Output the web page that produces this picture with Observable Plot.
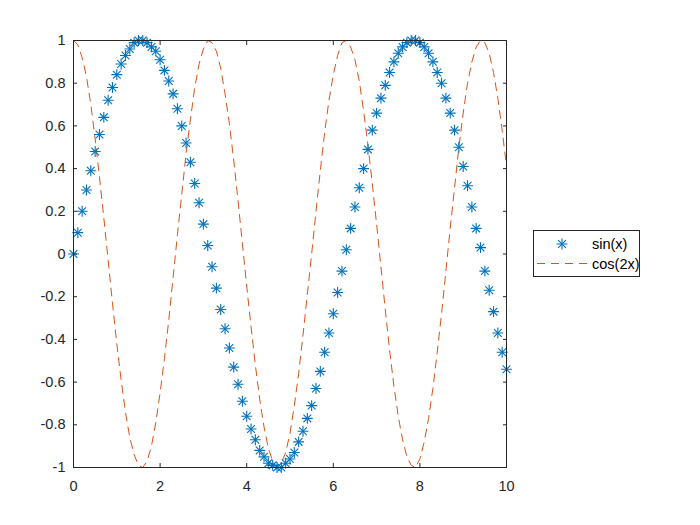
<!DOCTYPE html>
<html>
<head>
<meta charset="utf-8">
<script src="https://cdn.jsdelivr.net/npm/d3@7"></script>
<script src="https://cdn.jsdelivr.net/npm/@observablehq/plot@0.6"></script>
<style>
  html, body { margin: 0; padding: 0; background: #fff; }
  #wrap { position: relative; width: 700px; height: 525px; }
  #legend { position: absolute; left: 0; top: 0; }
</style>
</head>
<body>
<div id="wrap"></div>
<script>
const xValues = [0,0.1,0.2,0.3,0.4,0.5,0.6,0.7,0.8,0.9,1,1.1,1.2,1.3,1.4,1.5,1.6,1.7,1.8,1.9,2,2.1,2.2,2.3,2.4,2.5,2.6,2.7,2.8,2.9,3,3.1,3.2,3.3,3.4,3.5,3.6,3.7,3.8,3.9,4,4.1,4.2,4.3,4.4,4.5,4.6,4.7,4.8,4.9,5,5.1,5.2,5.3,5.4,5.5,5.6,5.7,5.8,5.9,6,6.1,6.2,6.3,6.4,6.5,6.6,6.7,6.8,6.9,7,7.1,7.2,7.3,7.4,7.5,7.6,7.7,7.8,7.9,8,8.1,8.2,8.3,8.4,8.5,8.6,8.7,8.8,8.9,9,9.1,9.2,9.3,9.4,9.5,9.6,9.7,9.8,9.9,10];
const sinValues = [0.00,0.10,0.20,0.30,0.39,0.48,0.56,0.64,0.72,0.78,0.84,0.89,0.93,0.96,0.99,1.00,1.00,0.99,0.97,0.95,0.91,0.86,0.81,0.75,0.68,0.60,0.52,0.43,0.33,0.24,0.14,0.04,-0.06,-0.16,-0.26,-0.35,-0.44,-0.53,-0.61,-0.69,-0.76,-0.82,-0.87,-0.92,-0.95,-0.98,-0.99,-1.00,-1.00,-0.98,-0.96,-0.93,-0.88,-0.83,-0.77,-0.71,-0.63,-0.55,-0.46,-0.37,-0.28,-0.18,-0.08,0.02,0.12,0.22,0.31,0.40,0.49,0.58,0.66,0.73,0.79,0.85,0.90,0.94,0.97,0.99,1.00,1.00,0.99,0.97,0.94,0.90,0.85,0.80,0.73,0.66,0.58,0.50,0.41,0.32,0.22,0.12,0.03,-0.08,-0.17,-0.27,-0.37,-0.46,-0.54];
const cosValues = [1.00,0.98,0.92,0.83,0.70,0.54,0.36,0.17,-0.03,-0.23,-0.42,-0.59,-0.74,-0.86,-0.94,-0.99,-1.00,-0.97,-0.90,-0.79,-0.65,-0.49,-0.31,-0.11,0.09,0.28,0.47,0.63,0.78,0.89,0.96,1.00,0.99,0.95,0.87,0.75,0.61,0.44,0.25,0.05,-0.15,-0.34,-0.52,-0.68,-0.81,-0.91,-0.97,-1.00,-0.98,-0.93,-0.84,-0.71,-0.56,-0.38,-0.19,0.00,0.20,0.39,0.57,0.72,0.84,0.93,0.99,1.00,0.97,0.91,0.81,0.67,0.51,0.33,0.14,-0.06,-0.26,-0.45,-0.62,-0.76,-0.87,-0.95,-0.99,-1.00,-0.96,-0.88,-0.77,-0.63,-0.46,-0.28,-0.08,0.12,0.31,0.50,0.66,0.80,0.90,0.97,1.00,0.99,0.94,0.85,0.73,0.58,0.41];
const xTicks = [0,2,4,6,8,10];
const yTicks = [-1,-0.8,-0.6,-0.4,-0.2,0,0.2,0.4,0.6,0.8,1];
const seriesNames = ["sin(x)", "cos(2x)"];

const blue = "#0072BD";
const orange = "#D95319";
const axisColor = "#262626";

const sinData = xValues.map((x, i) => ({x, y: sinValues[i]}));
const cosData = xValues.map((x, i) => ({x, y: cosValues[i]}));
const fmt = d => String(Math.round(d * 10) / 10);
const blank = () => "";
const markerR = 3.6;

const chart = Plot.plot({
  width: 700,
  height: 525,
  marginLeft: 73,
  marginRight: 194,
  marginTop: 40,
  marginBottom: 58,
  style: {fontFamily: "'Liberation Sans', Arial, sans-serif", fontSize: "14.5px", color: axisColor, background: "#fff"},
  x: {domain: [0, 10]},
  y: {domain: [-1, 1]},
  marks: [
    Plot.line(cosData, {x: "x", y: "y", stroke: orange, strokeWidth: 1, strokeDasharray: "8,6"}),
    Plot.dot(sinData, {x: "x", y: "y", symbol: "plus", r: markerR, stroke: blue, strokeWidth: 1.1}),
    Plot.dot(sinData, {x: "x", y: "y", symbol: "times", r: markerR, stroke: blue, strokeWidth: 1.1}),
    Plot.frame({stroke: axisColor, strokeWidth: 1}),
    Plot.axisX({anchor: "bottom", ticks: xTicks, tickSize: 0, tickPadding: 13, tickFormat: fmt, label: null, fill: axisColor}),
    Plot.axisY({anchor: "left", ticks: yTicks, tickSize: 0, tickPadding: 8, tickFormat: fmt, label: null, fill: axisColor}),
    Plot.axisX({anchor: "bottom", ticks: xTicks, tickSize: -4, tickFormat: blank, label: null, stroke: axisColor}),
    Plot.axisX({anchor: "top", ticks: xTicks, tickSize: -4, tickFormat: blank, label: null, stroke: axisColor}),
    Plot.axisY({anchor: "left", ticks: yTicks, tickSize: -4, tickFormat: blank, label: null, stroke: axisColor}),
    Plot.axisY({anchor: "right", ticks: yTicks, tickSize: -4, tickFormat: blank, label: null, stroke: axisColor})
  ]
});
document.getElementById("wrap").appendChild(chart);

// legend
const leg = d3.select("#wrap").append("svg")
  .attr("id", "legend")
  .attr("width", 700).attr("height", 525)
  .style("font-family", "'Liberation Sans', Arial, sans-serif")
  .style("font-size", "14.5px");
leg.append("rect").attr("x", 533.5).attr("y", 230.5).attr("width", 106).attr("height", 46)
  .attr("fill", "#fff").attr("stroke", axisColor).attr("stroke-width", 1);
const g1 = leg.append("g").attr("transform", "translate(562,244)").attr("stroke", blue).attr("fill", "none").attr("stroke-width", 1.1);
g1.append("path").attr("d", d3.symbol(d3.symbolPlus, Math.PI * markerR * markerR)());
g1.append("path").attr("d", d3.symbol(d3.symbolTimes, Math.PI * markerR * markerR)());
leg.append("line").attr("x1", 537).attr("x2", 588).attr("y1", 263.5).attr("y2", 263.5)
  .attr("stroke", orange).attr("stroke-width", 1).attr("stroke-dasharray", "8,6");
leg.append("text").attr("x", 592).attr("y", 249).attr("fill", "#000").text(seriesNames[0]);
leg.append("text").attr("x", 592).attr("y", 269).attr("fill", "#000").text(seriesNames[1]);
</script>
</body>
</html>
